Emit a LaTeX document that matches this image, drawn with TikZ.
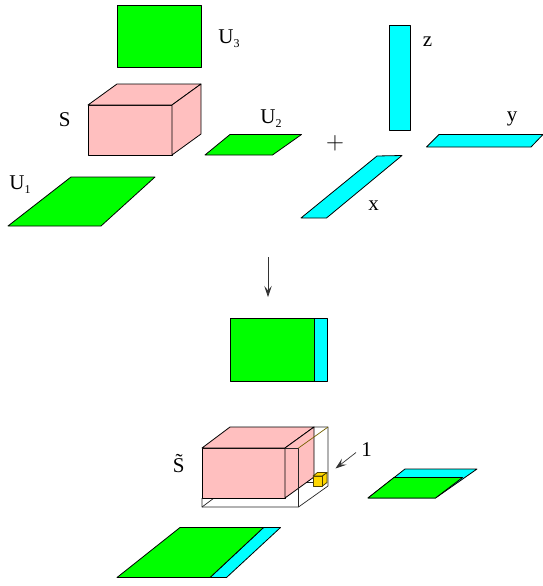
\documentclass[tikz,border=0pt]{standalone}
\usepackage{fontspec}
\setmainfont{Liberation Serif}
\usetikzlibrary{arrows.meta}
\definecolor{facegreen}{HTML}{00FF00}
\definecolor{facecyan}{HTML}{00FFFF}
\definecolor{facepink}{HTML}{FFBFBF}
\definecolor{facegold}{HTML}{FFD700}
\newcommand{\subidx}[1]{\raisebox{-4pt}{\fontsize{12}{12}\selectfont #1}}

\begin{document}
\begin{tikzpicture}[x=1pt, y=-1pt, line width=0.8pt, line join=round,
    greenface/.style={draw=black, fill=facegreen},
    cyanface/.style={draw=black, fill=facecyan},
    pinkface/.style={draw=black, fill=facepink},
    goldface/.style={draw=black!70!facegold, fill=facegold},
    wire/.style={draw=black!85, line width=0.7pt},
    pointer/.style={draw=black!80, line width=0.7pt, -{Stealth[length=11pt,width=7.5pt,inset=4.5pt]}},
    lbl/.style={anchor=base west, inner sep=0pt, font=\fontsize{21}{21}\selectfont}]

  \useasboundingbox (0,0) rectangle (543,586);

  % Top: separate pieces
  \draw[greenface] (117,5) rectangle (201,67);                         % U3
  \draw[greenface] (205,155) -- (272.5,155) -- (301.5,134.5) -- (230,134.5) -- cycle; % U2
  \draw[greenface] (8,226) -- (101,226) -- (155,177) -- (71,177) -- cycle;            % U1

  % Box S
  \draw[pinkface] (88,105) rectangle (172,155);
  \draw[pinkface] (88,105) -- (117,84) -- (201,84) -- (172,105) -- cycle;
  \draw[pinkface] (172,105) -- (201,84) -- (201,134) -- (172,155) -- cycle;

  % Thin strips
  \draw[cyanface] (389,25.5) rectangle (410,130);                      % z
  \draw[cyanface] (426.5,147) -- (531,147) -- (543,134.5) -- (439,134.5) -- cycle;    % y
  \draw[cyanface] (301,218) -- (326.5,218) -- (402,155.5) -- (377,156) -- cycle;      % x

  % Labels, top
  \node[lbl] (labelSi) at (58.5,126.5) {S};
  \node[lbl] (labelUiii) at (218,43.5) {U\subidx{3}};
  \node[lbl] (labelUii) at (260,123) {U\subidx{2}};
  \node[lbl] (labelUi) at (9,189) {U\subidx{1}};
  \node[lbl] (labelz) at (422.5,46.5) {z};
  \node[lbl] (labely) at (506.5,121.5) {y};
  \node[lbl] (labelx) at (368,210) {x};
  \node[anchor=base, inner sep=0pt, font=\fontsize{25}{25}\selectfont] (plus) at (335,149) {$+$};

  % Arrow down
  \coordinate (downstart) at (268,257);
  \coordinate (downend) at (268,297);
  \draw[pointer] (downstart) -- (downend);

  % Bottom: merged rectangle
  \draw[cyanface] (314,318) rectangle (327,381);
  \draw[greenface] (230,318) rectangle (314,381);

  % Merged U2
  \draw[cyanface] (368,498) -- (435.5,498) -- (477,469) -- (405,469) -- cycle;
  \draw[greenface] (368,498) -- (435.5,498) -- (462.5,477.5) -- (394,477.5) -- cycle;

  % Merged U1
  \draw[cyanface] (210,577.5) -- (226.5,577.5) -- (280.5,527.5) -- (263.5,527.5) -- cycle;
  \draw[greenface] (117,577.5) -- (210,577.5) -- (263.5,527.5) -- (180,527.5) -- cycle;

  % Box S tilde
  \draw[wire] (202,498) -- (202,507) -- (298.5,507) -- (328,486) -- (328,427) -- (314,427);
  \draw[wire] (202,507) -- (214,498);
  \draw[wire] (305,482) -- (313,482);
  \draw[pinkface] (202,448) rectangle (285,498);
  \draw[pinkface] (202,448) -- (230,427) -- (314,427) -- (285,448) -- cycle;
  \draw[pinkface] (285,448) -- (314,427) -- (314,477) -- (285,498) -- cycle;
  \draw[wire] (285,448) -- (298.5,448) -- (298.5,507);
  \draw[wire, draw=black!55!facegold] (298.5,448) -- (328,427);

  % Small cube
  \draw[goldface] (313,476) rectangle (322.5,486);
  \draw[goldface] (313,476) -- (317.5,472.5) -- (327,472.5) -- (322.5,476) -- cycle;
  \draw[goldface] (322.5,476) -- (327,472.5) -- (327,482.5) -- (322.5,486) -- cycle;

  % Labels, bottom
  \node[lbl] (labelS) at (172.5,472.5) {S̃};
  \node[lbl] (labelone) at (361,456.5) {1};
  \coordinate (onestart) at (356,452.5);
  \coordinate (cubehint) at (335.5,468.5);
  \draw[pointer] (onestart) -- (cubehint);

\end{tikzpicture}
\end{document}
